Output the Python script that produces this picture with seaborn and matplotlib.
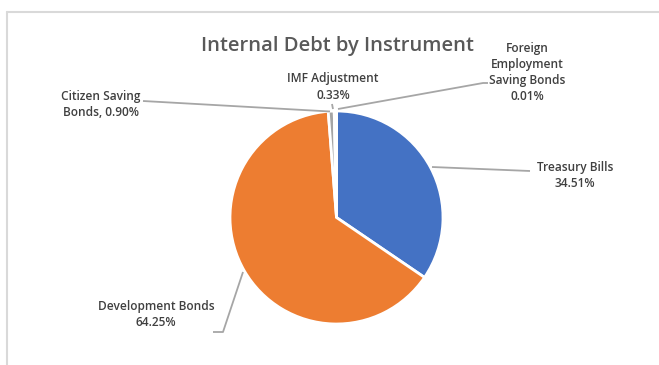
import matplotlib
matplotlib.use("Agg")
import matplotlib.pyplot as plt
from matplotlib.lines import Line2D
import seaborn as sns

categories = ["Treasury Bills", "Development Bonds", "Citizen Saving Bonds",
              "IMF Adjustment", "Foreign Employment Saving Bonds"]
shares = [34.51, 64.25, 0.90, 0.33, 0.01]
label_texts = ["Treasury Bills\n34.51%", "Development Bonds\n64.25%",
               "Citizen Saving\nBonds, 0.90%", "IMF Adjustment\n0.33%",
               "Foreign\nEmployment\nSaving Bonds\n0.01%"]
title = "Internal Debt by Instrument"

sns.set_theme(style="white")
plt.rcParams['font.family'] = ['Open Sans', 'DejaVu Sans']
colors = ["#4472C4", "#ED7D31", "#A5A5A5", "#FFC000", "#5B9BD5"]

W, H = 659, 365
fig = plt.figure(figsize=(W / 100, H / 100), dpi=100)
ax = fig.add_axes([0, 0, 1, 1])
ax.set_xlim(0, W)
ax.set_ylim(0, H)
ax.set_aspect("equal")
ax.axis("off")

def Y(py):
    return H - py

cx, cy, r = 336.5, 217.5, 106.5
ax.pie(shares, colors=colors, startangle=90, counterclock=False,
       center=(cx, Y(cy)), radius=r,
       wedgeprops=dict(edgecolor="white", linewidth=2))
ax.set_xlim(0, W)
ax.set_ylim(0, H)

txt_color = "#404040"
line_color = "#A6A6A6"
fs = 8.6

# label positions (pixel coords, centre of text block)
label_pos = [(575, 175.5), (156, 314.5), (101, 104.5), (333, 87), (527, 72.5)]
leaders = [
    [(432, 167), (530, 171)],
    [(243, 272), (223, 332), (213, 332)],
    [(330, 111.5), (143, 101)],
    [(333, 109), (332, 104)],
    [(338, 109), (483, 83), (488, 83)],
]
for txt, (px, py), pts in zip(label_texts, label_pos, leaders):
    ax.text(px, Y(py), txt, ha="center", va="center", fontsize=fs,
            color=txt_color, fontweight="semibold", linespacing=1.33)
    xs = [p[0] for p in pts]
    ys = [Y(p[1]) for p in pts]
    ax.plot(xs, ys, color=line_color, lw=1.3, solid_capstyle="butt")

ax.text(337, Y(46), title, ha="center", va="center", fontsize=14.5,
        color="#595959", fontweight="semibold")

# chart border
fig.add_artist(Line2D([7 / W, 1], [1 - 12 / H, 1 - 12 / H], color="#D9D9D9", lw=1.5,
                      transform=fig.transFigure))
fig.add_artist(Line2D([7 / W, 7 / W], [0, 1 - 12 / H], color="#D9D9D9", lw=1.5,
                      transform=fig.transFigure))

fig.savefig("out.png", dpi=100, facecolor="white")
